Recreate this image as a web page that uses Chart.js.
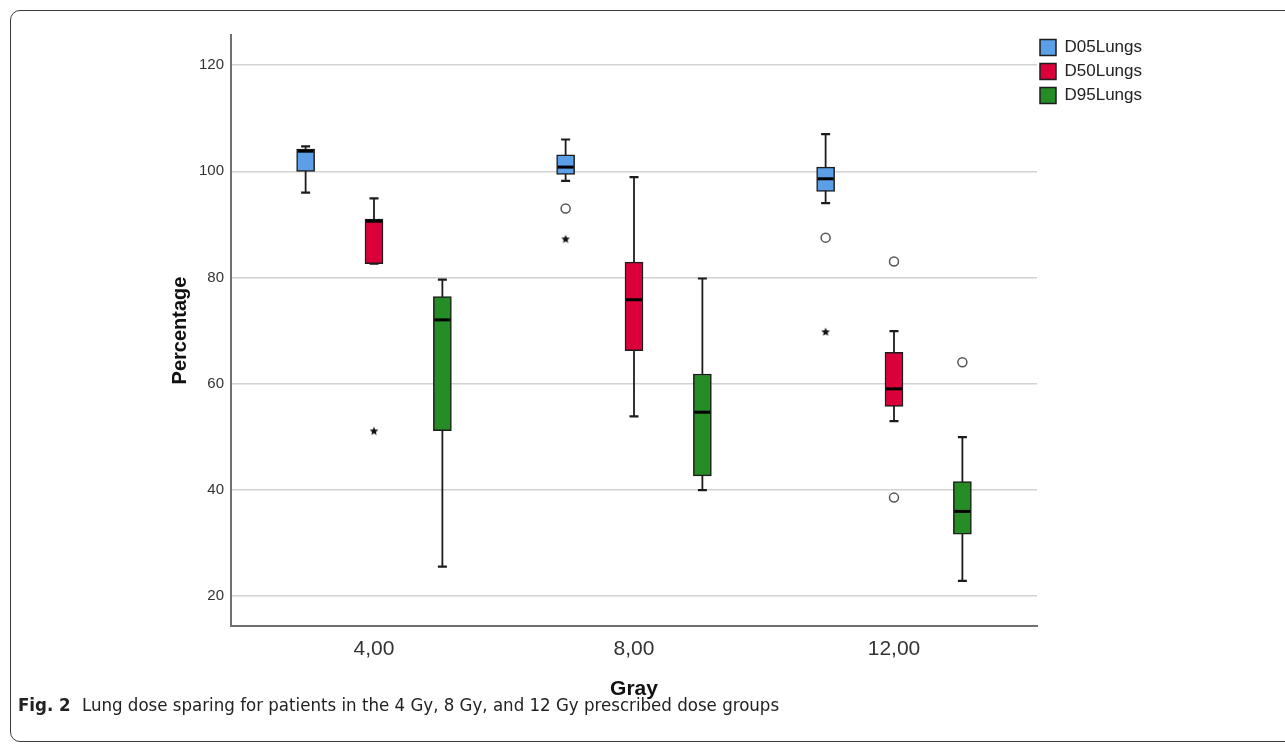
<!DOCTYPE html>
<html>
<head>
<meta charset="utf-8">
<script src="https://cdn.jsdelivr.net/npm/chart.js@4.4.1/dist/chart.umd.min.js"></script>
<style>
  html, body { margin: 0; padding: 0; background: #fff; }
  body { width: 1285px; height: 747px; position: relative; overflow: hidden; }
  #frame { position: absolute; left: 10px; top: 10px; width: 1320px; height: 730px; border: 1px solid #3a3a3a; border-radius: 10px; }
  #wrap { position: absolute; left: 0; top: 0; width: 1285px; height: 747px; }
  #caption { position: absolute; left: 18px; top: 694px; font-family: 'Liberation Sans Narrow', 'DejaVu Sans Condensed', sans-serif; font-size: 18.5px; color: #222; white-space: nowrap; }
  #caption b { margin-right: 6px; }
</style>
</head>
<body>
<div id="frame"></div>
<div id="wrap"><canvas id="boxChart"></canvas></div>
<div id="caption"><b>Fig. 2</b> Lung dose sparing for patients in the 4 Gy, 8 Gy, and 12 Gy prescribed dose groups</div>
<script>
const groups = ['4,00', '8,00', '12,00'];
const yTicks = [20, 40, 60, 80, 100, 120];

// D05Lungs
const d05Low = [96.0, 98.2, 94.0];
const d05Q1 = [100.0, 99.4, 96.2];
const d05Med = [103.8, 100.8, 98.6];
const d05Q3 = [104.2, 103.1, 100.8];
const d05High = [104.7, 106.0, 107.0];
const d05Circles = [[], [93.0], [87.5]];
const d05Stars = [[], [87.2], [69.7]];

// D50Lungs
const d50Low = [82.6, 53.8, 52.9];
const d50Q1 = [82.6, 66.2, 55.7];
const d50Med = [90.6, 75.8, 59.0];
const d50Q3 = [91.0, 82.9, 65.9];
const d50High = [94.9, 98.9, 69.9];
const d50Circles = [[], [], [83.0, 38.5]];
const d50Stars = [[51.0], [], []];

// D95Lungs
const d95Low = [25.5, 39.9, 22.8];
const d95Q1 = [51.1, 42.6, 31.6];
const d95Med = [72.0, 54.6, 35.9];
const d95Q3 = [76.4, 61.8, 41.5];
const d95High = [79.6, 79.8, 49.9];
const d95Circles = [[], [], [64.0]];
const d95Stars = [[], [], []];

const seriesList = [
    { label: 'D05Lungs', color: '#5b9fe6', low: d05Low, q1: d05Q1, med: d05Med, q3: d05Q3, high: d05High, circles: d05Circles, stars: d05Stars },
    { label: 'D50Lungs', color: '#dc003a', low: d50Low, q1: d50Q1, med: d50Med, q3: d50Q3, high: d50High, circles: d50Circles, stars: d50Stars },
    { label: 'D95Lungs', color: '#268c26', low: d95Low, q1: d95Q1, med: d95Med, q3: d95Q3, high: d95High, circles: d95Circles, stars: d95Stars }
];

// spacing of the three boxes inside one dose group (x units)
const shift = 0.263;
const boxX = (i, k) => i + 1 + (k - 1) * shift;

function outlierPoints(key) {
    const pts = [];
    seriesList.forEach((s, k) => {
        s[key].forEach((vals, i) => {
            vals.forEach(v => pts.push({ x: boxX(i, k), y: v }));
        });
    });
    return pts;
}

function makeStar(size) {
    const c = document.createElement('canvas');
    c.width = size;
    c.height = size;
    const g = c.getContext('2d');
    const R = size / 2 - 0.5;
    const r = R * 0.45;
    g.beginPath();
    for (let i = 0; i < 10; i++) {
        const rad = i % 2 ? r : R;
        const a = -Math.PI / 2 + i * Math.PI / 5;
        g.lineTo(size / 2 + rad * Math.cos(a), size / 2 + rad * Math.sin(a));
    }
    g.closePath();
    g.fillStyle = '#111';
    g.fill();
    return c;
}

const boxSets = seriesList.map((s, k) => ({
    type: 'bar',
    label: s.label,
    data: groups.map((g, i) => ({ x: boxX(i, k), y: [s.q1[i], s.q3[i]] })),
    backgroundColor: s.color,
    borderColor: '#1c1c1c',
    borderWidth: 1.5,
    borderSkipped: false,
    barThickness: 18,
    grouped: false
}));

const whiskers = {
    id: 'whiskers',
    beforeDatasetsDraw(chart) {
        const { ctx, scales: { y } } = chart;
        ctx.save();
        ctx.strokeStyle = '#1c1c1c';
        seriesList.forEach((s, k) => {
            chart.getDatasetMeta(k).data.forEach((bar, i) => {
                const x = bar.x;
                const top = y.getPixelForValue(s.high[i]);
                const bottom = y.getPixelForValue(s.low[i]);
                ctx.lineWidth = 1.8;
                ctx.beginPath();
                ctx.moveTo(x, top);
                ctx.lineTo(x, bottom);
                ctx.stroke();
                ctx.lineWidth = 2.2;
                ctx.beginPath();
                ctx.moveTo(x - 4.5, top);
                ctx.lineTo(x + 4.5, top);
                ctx.moveTo(x - 4.5, bottom);
                ctx.lineTo(x + 4.5, bottom);
                ctx.stroke();
            });
        });
        ctx.restore();
    },
    afterDatasetsDraw(chart) {
        const { ctx, scales: { y } } = chart;
        ctx.save();
        ctx.strokeStyle = '#000';
        ctx.lineWidth = 3;
        seriesList.forEach((s, k) => {
            chart.getDatasetMeta(k).data.forEach((bar, i) => {
                const my = y.getPixelForValue(s.med[i]);
                ctx.beginPath();
                ctx.moveTo(bar.x - bar.width / 2 + 1, my);
                ctx.lineTo(bar.x + bar.width / 2 - 1, my);
                ctx.stroke();
            });
        });
        ctx.restore();
    }
};

// legend sits a little left/up of where chart.js puts it
const legendNudge = {
    id: 'legendNudge',
    afterLayout(chart) {
        if (chart.legend) {
            chart.legend.left -= 4;
            chart.legend.top -= 3;
        }
    }
};

Chart.defaults.font.family = "'Liberation Sans', Arial, sans-serif";

const ctx = document.getElementById('boxChart').getContext('2d');
const boxChart = new Chart(ctx, {
    type: 'bar',
    data: {
        datasets: [
            ...boxSets,
            {
                type: 'scatter',
                label: 'outliers',
                data: outlierPoints('circles'),
                pointStyle: 'circle',
                pointRadius: 4.5,
                borderWidth: 1.5,
                borderColor: '#555',
                backgroundColor: '#fff'
            },
            {
                type: 'scatter',
                label: 'extremes',
                data: outlierPoints('stars'),
                pointStyle: makeStar(10),
                pointRadius: 5
            }
        ]
    },
    options: {
        responsive: true,
        maintainAspectRatio: false,
        animation: false,
        layout: {
            padding: { left: 161, top: 35, right: 143, bottom: 36 }
        },
        plugins: {
            tooltip: { enabled: false },
            legend: {
                position: 'right',
                align: 'start',
                maxWidth: 105,
                labels: {
                    boxWidth: 16,
                    boxHeight: 16,
                    padding: 7,
                    color: '#222',
                    font: { size: 17 },
                    filter: item => item.datasetIndex < 3
                }
            }
        },
        scales: {
            x: {
                type: 'linear',
                min: 0.45,
                max: 3.55,
                offset: false,
                grid: { display: false, drawTicks: false },
                border: { color: '#707070', width: 2 },
                afterBuildTicks: scale => {
                    scale.ticks = groups.map((g, i) => ({ value: i + 1 }));
                },
                afterFit: scale => { scale.height = 85; },
                ticks: {
                    padding: 11,
                    color: '#333',
                    font: { size: 21 },
                    callback: v => groups[v - 1]
                },
                title: {
                    display: true,
                    text: 'Gray',
                    color: '#111',
                    font: { size: 21, weight: 'bold' },
                    padding: { top: 0, bottom: 9 }
                }
            },
            y: {
                min: 14.3,
                max: 125.7,
                afterBuildTicks: scale => {
                    scale.ticks = yTicks.map(v => ({ value: v }));
                },
                afterFit: scale => { scale.width = 70; },
                grid: { color: '#d2d2d2', lineWidth: 1.5, drawTicks: false },
                border: { color: '#707070', width: 2 },
                ticks: {
                    padding: 7,
                    color: '#333',
                    font: { size: 15 }
                },
                title: {
                    display: true,
                    text: 'Percentage',
                    color: '#111',
                    font: { size: 20, weight: 'bold' },
                    padding: { top: 7, bottom: 0 }
                }
            }
        }
    },
    plugins: [whiskers, legendNudge]
});
</script>
</body>
</html>
